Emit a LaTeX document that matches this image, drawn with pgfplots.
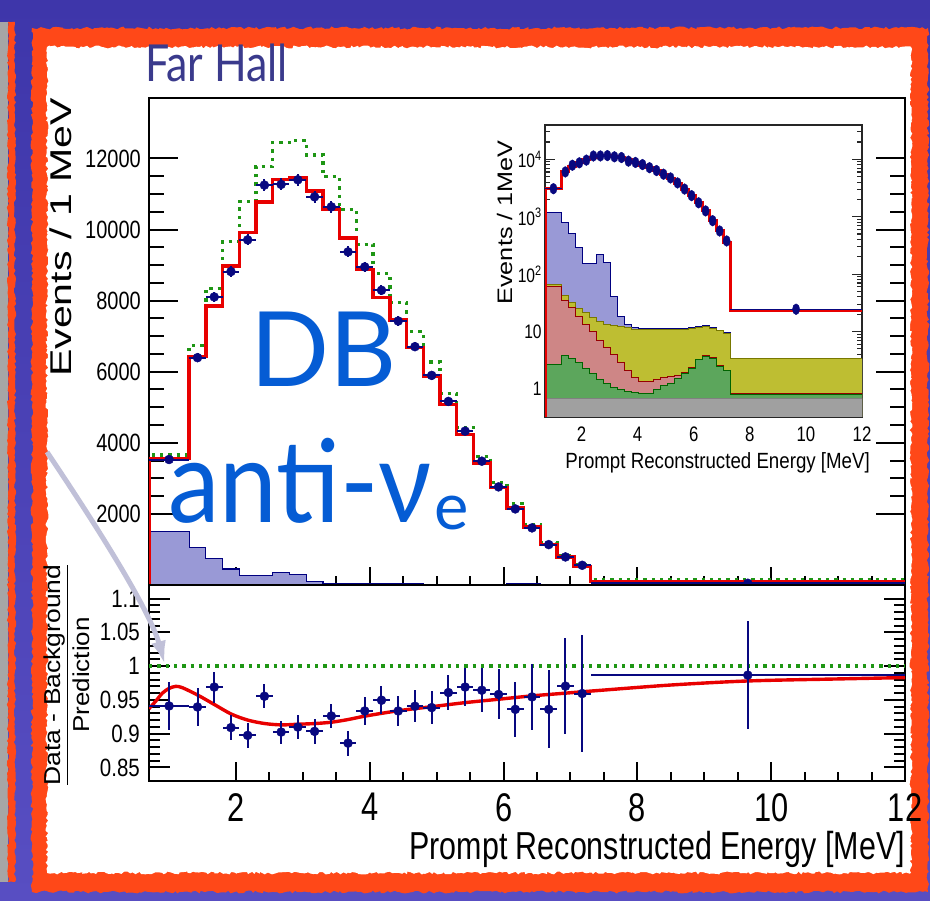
\documentclass[border=0pt]{standalone}
\usepackage{pgfplots}
\usepackage{pgfplotstable}
\pgfplotsset{compat=1.18}
\usepackage{fontspec}
\setmainfont{Liberation Sans}
\newfontfamily\gillfont{Lato}
\usetikzlibrary{arrows.meta,decorations.pathmorphing}

\definecolor{slidetop}{RGB}{62,54,170}
\definecolor{slidebot}{RGB}{88,78,194}
\definecolor{frameor}{RGB}{255,72,24}
\definecolor{datablue}{RGB}{8,8,128}
\definecolor{predred}{RGB}{232,0,0}
\definecolor{noosc}{RGB}{30,150,20}
\definecolor{accfill}{RGB}{153,153,214}
\definecolor{accline}{RGB}{0,0,128}
\definecolor{fnfill}{RGB}{190,190,50}
\definecolor{fnline}{RGB}{120,120,0}
\definecolor{lifill}{RGB}{206,134,134}
\definecolor{liline}{RGB}{150,0,0}
\definecolor{amcfill}{RGB}{92,166,92}
\definecolor{amcline}{RGB}{0,100,0}
\definecolor{anfill}{RGB}{160,160,160}
\definecolor{dbblue}{RGB}{5,92,212}
\definecolor{hallblue}{RGB}{58,58,140}
\definecolor{arrowgray}{RGB}{192,192,216}

% Far hall spectrum, events per MeV, bins given by their lower edge
\pgfplotstableread{
edge  pred   noosc  bkg
0.7   0      0      0
0.7   3558   3657   1510
1.3   6430   6730   1059
1.55  7850   8340   741
1.8   8976   9665   450
2.05  9915   10785  263
2.3   10779  11775  263
2.55  11399  12440  357
2.8   11455  12500  291
3.05  11089  12095  100
3.3   10573  11485  46
3.55  9765   10565  34
3.8   8883   9585   30
4.05  8084   8760   28
4.3   7454   7950   27
4.55  6676   7127   26
4.8   5877   6270   25
5.05  5079   5380   25
5.3   4234   4430   25
5.55  3436   3618   25
5.8   2750   2886   25
6.05  2169   2288   26
6.3   1634   1686   26
6.55  1135   1195   25
6.8   789    820    24
7.05  524    560    23
7.3   100    150    8
12    100    150    8
}\spectrum

% observed prompt spectrum
\pgfplotstableread{
e      n      ex     ey
1.0    3530   0.3    95
1.425  6395   0.125  128
1.675  8103   0.125  144
1.925  8817   0.125  150
2.175  9709   0.125  158
2.425  11249  0.125  170
2.675  11268  0.125  170
2.925  11399  0.125  171
3.175  10920  0.125  167
3.425  10638  0.125  165
3.675  9371   0.125  155
3.925  8948   0.125  151
4.175  8291   0.125  146
4.425  7426   0.125  138
4.675  6704   0.125  131
4.925  5896   0.125  123
5.175  5164   0.125  115
5.425  4328   0.125  105
5.675  3483   0.125  94
5.925  2760   0.125  84
6.175  2140   0.125  74
6.425  1606   0.125  64
6.675  1136   0.125  54
6.925  789    0.125  45
7.175  554    0.125  38
9.65   49     2.35   11
}\observed

% (data - background) / prediction
\pgfplotstableread{
e      r       ex     ey
1.0    0.941   0.3    0.035
1.425  0.9395  0.125  0.0285
1.675  0.969   0.125  0.023
1.925  0.909   0.125  0.019
2.175  0.8975  0.125  0.018
2.425  0.9554  0.125  0.018
2.675  0.9024  0.125  0.017
2.925  0.9098  0.125  0.018
3.175  0.9034  0.125  0.018
3.425  0.9262  0.125  0.018
3.675  0.886   0.125  0.0185
3.925  0.9336  0.125  0.0205
4.175  0.9495  0.125  0.021
4.425  0.9336  0.125  0.0215
4.675  0.9406  0.125  0.0235
4.925  0.9386  0.125  0.025
5.175  0.9609  0.125  0.0265
5.425  0.969   0.125  0.0287
5.675  0.9643  0.125  0.0324
5.925  0.958   0.125  0.037
6.175  0.936   0.125  0.041
6.425  0.9544  0.125  0.0485
6.675  0.936   0.125  0.0577
6.925  0.9703  0.125  0.0713
7.175  0.9594  0.125  0.087
9.65   0.9866  2.35   0.08
}\ratio

% best-fit survival curve
\pgfplotstableread{
e     p
0.7   0.937
0.8   0.948
0.9   0.960
1.0   0.967
1.1   0.970
1.2   0.968
1.43  0.957
1.68  0.943
1.93  0.929
2.18  0.920
2.43  0.915
2.68  0.913
2.93  0.914
3.18  0.915
3.43  0.917
3.68  0.921
3.93  0.926
4.43  0.934
4.93  0.940
5.43  0.946
5.93  0.951
6.43  0.956
6.93  0.960
7.43  0.964
8.5   0.972
9.65  0.978
11    0.981
12    0.983
}\survival

% inset: stacked backgrounds and prediction (log scale)
\pgfplotstableread{
edge  acc    fn     li     amc    an    red
0.7   0.2    0.2    0.2    0.2    0.2   0.2
0.7   1194   66.4   60.3   2.69   0.69  3103
1.3   798    42.1   35.3   3.79   0.69  6066
1.55  514    32.3   26.0   3.41   0.69  7603
1.8   293    25.4   18.6   2.91   0.69  8850
2.05  154    21.3   13.5   2.28   0.69  9904
2.3   154    17.2   9.94   1.82   0.69  10887
2.55  218    15.2   7.1    1.48   0.69  11600
2.8   161    13.5   5.3    1.22   0.69  11664
3.05  40.4   12.6   3.9    1.05   0.69  11240
3.3   18.1   12.2   2.86   0.957  0.69  10651
3.55  13.5   11.7   2.07   0.894  0.69  9734
3.8   11.8   10.9   1.59   0.859  0.69  8747
4.05  11.4   10.9   1.33   0.838  0.69  7858
4.3   11.1   10.9   1.33   0.838  0.69  7170
4.55  11.1   10.9   1.43   0.984  0.69  6329
4.8   11.1   10.9   1.57   1.14   0.69  5478
5.05  11.1   10.9   1.62   1.25   0.69  4643
5.3   11.1   10.9   1.72   1.53   0.69  3779
5.55  11.1   10.9   1.95   1.87   0.69  2983
5.8   11.6   11.4   2.35   2.28   0.69  2318
6.05  12.0   11.8   3.28   3.20   0.69  1772
6.3   12.5   12.3   3.75   3.66   0.69  1286
6.55  11.7   11.5   3.5    3.41   0.69  851
6.8   10.6   10.4   2.55   2.48   0.69  564
7.05  9.5    9.3    2.12   2.07   0.69  355
7.3   3.32   3.32   0.83   0.805  0.69  23
12    3.32   3.32   0.83   0.805  0.69  23
12    0.2    0.2    0.2    0.2    0.2   nan
}\insetstack

\pgfplotstableread{
e      n      ex
1.0    3075   0.3
1.425  6028   0.125
1.675  7880   0.125
1.925  8672   0.125
2.175  9672   0.125
2.425  11425  0.125
2.675  11447  0.125
2.925  11600  0.125
3.175  11050  0.125
3.425  10727  0.125
3.675  9290   0.125
3.925  8817   0.125
4.175  8086   0.125
4.425  7142   0.125
4.675  6361   0.125
4.925  5498   0.125
5.175  4732   0.125
5.425  3875   0.125
5.675  3029   0.125
5.925  2328   0.125
6.175  1745   0.125
6.425  1261   0.125
6.675  852    0.125
6.925  564    0.125
7.175  378    0.125
9.65   24.4   2.35
}\insetdata

\pgfplotsset{
  rootframe/.style={
    scale only axis,
    xmin=0.7, xmax=12,
    axis background/.style={fill=white},
    axis line style={line width=2.2pt, black},
    tick style={line width=2pt, black},
    tick align=inside,
    xtick pos=left, ytick pos=both, yticklabel pos=left,
    /pgf/number format/assume math mode=true,
    /pgf/number format/1000 sep={},
    scaled y ticks=false,
  },
  nooscline/.style={noosc, line width=3.3pt, dash pattern=on 3.3pt off 5pt},
  predline/.style={predred, line width=3.4pt},
  datapts/.style={only marks, mark=*, mark size=4.5pt,
    mark options={fill=datablue, draw=datablue},
    error bars/.cd, x dir=both, x explicit, y dir=both, y explicit,
    error mark=none, error bar style={line width=2pt, datablue}},
}

\begin{document}
\begin{tikzpicture}[x=1pt,y=1pt]
\path[use as bounding box] (0,0) rectangle (930,901);
\shade[top color=slidetop, bottom color=slidebot] (0,0) rectangle (930,901);
% neighbouring slide element on the left
\fill[black!35] (0,19) rectangle (8,879);
\fill[frameor, decorate, decoration={random steps, segment length=3pt, amplitude=1.2pt}]
  (8,19) rectangle (15,879);
% picture frame with ragged painted edges
\fill[frameor, decorate, decoration={random steps, segment length=3pt, amplitude=1.5pt}]
  (32,9) rectangle (928,873);
\fill[white, decorate, decoration={random steps, segment length=2.5pt, amplitude=1.5pt}]
  (47,28) rectangle (911,854);

% ---------- upper panel: spectrum ----------
\begin{axis}[rootframe, at={(149pt,316pt)}, anchor=south west,
  width=756pt, height=487pt,
  ymin=0, ymax=13700,
  major tick length=29pt, minor tick length=15pt,
  xtick={2,4,...,12}, minor x tick num=3, xticklabels={},
  ytick={2000,4000,...,12000}, minor y tick num=3,
  yticklabel style={font=\fontsize{25}{25}\selectfont, xscale=0.8, inner sep=0pt, xshift=-10pt},
  xtick style={/pgfplots/major tick length=18pt, /pgfplots/minor tick length=9pt},
]
\addplot[const plot, fill=accfill, draw=accline, line width=1.2pt] table[x=edge, y=bkg] {\spectrum} \closedcycle;
\addplot[const plot, nooscline] table[x=edge, y=noosc] {\spectrum};
\addplot[const plot, predline] table[x=edge, y=pred] {\spectrum};
\addplot[datapts] table[x=e, y=n, x error=ex, y error=ey] {\observed};
\end{axis}

% ---------- lower panel: ratio ----------
\begin{axis}[rootframe, at={(149pt,120pt)}, anchor=south west,
  width=756pt, height=196pt,
  ymin=0.83, ymax=1.12,
  major tick length=21pt, minor tick length=11pt,
  xtick={2,4,...,12}, minor x tick num=3,
  ytick={0.85,0.9,0.95,1,1.05,1.1}, minor y tick num=4,
  xticklabel style={font=\fontsize{40}{40}\selectfont, xscale=0.77, inner sep=0pt, yshift=-12pt},
  yticklabel style={font=\fontsize{25}{25}\selectfont, xscale=0.82, inner sep=0pt, xshift=-11pt},
  xtick style={/pgfplots/major tick length=19pt, /pgfplots/minor tick length=9pt},
  xlabel={Prompt Reconstructed Energy [MeV]},
  xlabel style={at={(rel axis cs:1,0)}, anchor=base east, yshift=-79pt, inner sep=0pt,
    font=\fontsize{39}{39}\selectfont, xscale=0.78},
]
\addplot[nooscline] coordinates {(0.7,1) (12,1)};
\addplot[predline, smooth] table[x=e, y=p] {\survival};
\addplot[datapts] table[x=e, y=r, x error=ex, y error=ey] {\ratio};
\end{axis}

% ---------- inset: log-scale spectrum with backgrounds ----------
\begin{axis}[at={(545pt,484pt)}, anchor=south west, scale only axis,
  width=317pt, height=292pt,
  xmin=0.7, xmax=12, ymode=log, ymin=0.324, ymax=39600,
  axis background/.style={fill=white},
  axis line style={line width=1.3pt, black!85},
  tick style={line width=1.1pt, black!85},
  major tick length=10pt, minor tick length=5pt,
  tick align=inside, xtick pos=left, ytick pos=both, yticklabel pos=left,
  xtick={2,4,...,12}, minor x tick num=3,
  ytick={1,10,100,1000,10000},
  yticklabels={1,10,10\textsuperscript{2},10\textsuperscript{3},10\textsuperscript{4}},
  minor ytick={0.4,0.5,0.6,0.7,0.8,0.9,2,3,4,5,6,7,8,9,20,30,40,50,60,70,80,90,200,300,400,500,600,700,800,900,2000,3000,4000,5000,6000,7000,8000,9000,20000,30000},
  xtick style={/pgfplots/major tick length=19pt, /pgfplots/minor tick length=9pt},
  xticklabel style={font=\fontsize{21}{21}\selectfont, xscale=0.8, inner sep=0pt, yshift=-10pt},
  yticklabel style={font=\fontsize{19.5}{19.5}\selectfont, xscale=0.8, inner sep=0pt, xshift=-4pt},
  xlabel={Prompt Reconstructed Energy [MeV]},
  xlabel style={at={(rel axis cs:1,0)}, anchor=base east, xshift=8pt, yshift=-52pt, inner sep=0pt,
    font=\fontsize{22}{22}\selectfont, xscale=0.85},
  /pgf/number format/assume math mode=true,
]
\addplot[const plot, fill=accfill, draw=accline, line width=1pt] table[x=edge, y=acc] {\insetstack};
\addplot[const plot, fill=fnfill, draw=fnline, line width=1pt] table[x=edge, y=fn] {\insetstack};
\addplot[const plot, fill=lifill, draw=liline, line width=1pt] table[x=edge, y=li] {\insetstack};
\addplot[const plot, fill=amcfill, draw=amcline, line width=1pt] table[x=edge, y=amc] {\insetstack};
\addplot[const plot, fill=anfill, draw=black!50, line width=0.8pt] table[x=edge, y=an] {\insetstack};
\addplot[const plot, predred, line width=3pt] table[x=edge, y=red] {\insetstack};
\addplot[only marks, mark=*, mark size=3.6pt,
  mark options={fill=datablue, draw=datablue, yscale=1.5},
  error bars/.cd, x dir=both, x explicit, error mark=none,
  error bar style={line width=1.5pt, datablue}]
  table[x=e, y=n, x error=ex] {\insetdata};
\end{axis}

% axis titles
\node[rotate=90, anchor=base, inner sep=0pt] at (71,663.5)
  {\fontsize{30}{30}\selectfont\scalebox{1.37}[1]{Events / 1 MeV}};
\node[rotate=90, anchor=base, inner sep=0pt] at (512,678.5)
  {\fontsize{21}{21}\selectfont\scalebox{1.2}[1]{Events / 1MeV}};
\node[rotate=90, anchor=base, inner sep=0pt] at (60,226)
  {\fontsize{23}{23}\selectfont\scalebox{1.15}[1]{Data - Background}};
\draw[line width=1.5pt] (67.5,116) -- (67.5,336);
\node[rotate=90, anchor=base, inner sep=0pt] at (89,226)
  {\fontsize{23}{23}\selectfont\scalebox{1.13}[1]{Prediction}};

% slide annotations
\node[anchor=base west, inner sep=0pt, text=hallblue] at (145,819)
  {\gillfont\fontsize{51}{51}\selectfont\scalebox{0.84}[1]{Far Hall}};
\node[anchor=base west, inner sep=0pt, text=dbblue] at (250,514)
  {\gillfont\fontsize{104}{104}\selectfont DB};
\node[anchor=base west, inner sep=0pt, text=dbblue] at (168,378)
  {\gillfont\fontsize{115}{115}\selectfont\scalebox{0.9}[1]{anti-ν}\kern2pt\raisebox{-7pt}{\fontsize{65}{65}\selectfont e}};

\draw[arrowgray, line width=5pt, -{Latex[length=24pt,width=15pt]}]
  (47,449) .. controls (100,370) and (150,290) .. (165,236);
\end{tikzpicture}
\end{document}
